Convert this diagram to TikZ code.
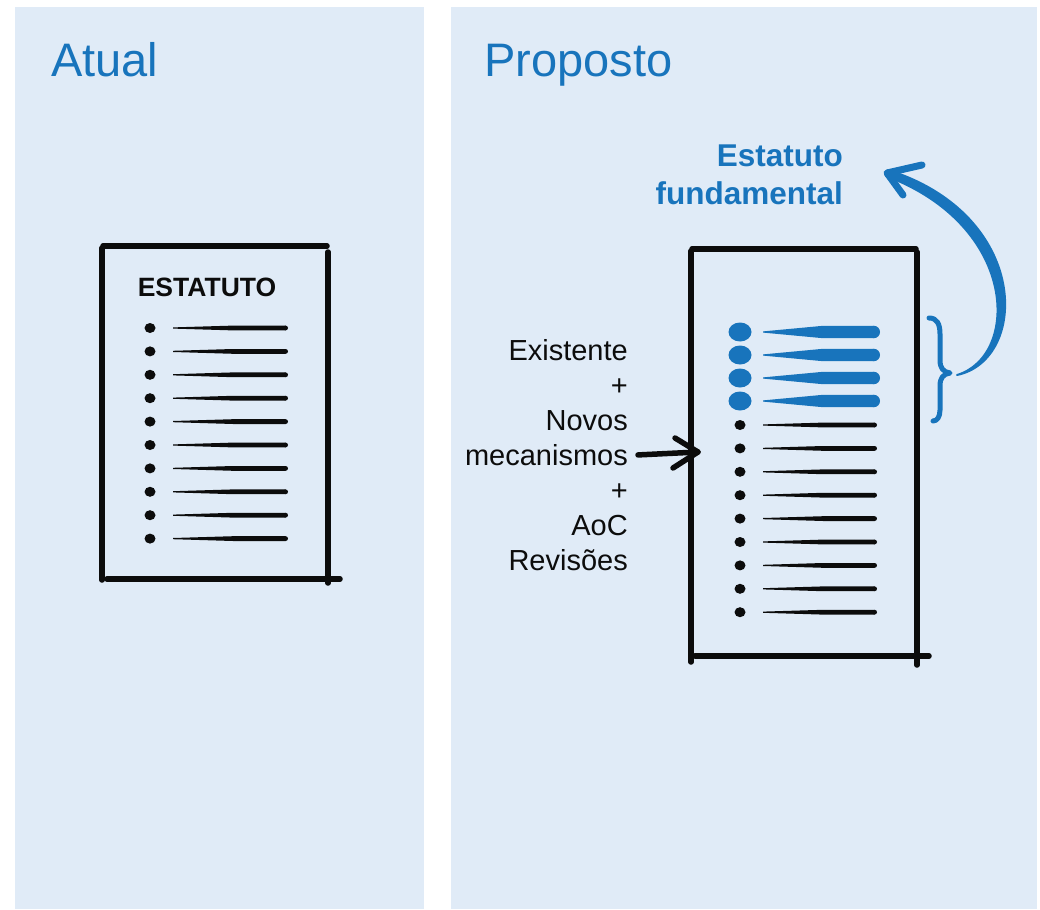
\documentclass[tikz,border=0pt]{standalone}
\usepackage{fontspec}
\setmainfont{Liberation Sans}
\usetikzlibrary{calc}
\definecolor{panelbg}{RGB}{224,235,247}
\definecolor{bblue}{RGB}{24,116,188}
\definecolor{ink}{RGB}{12,12,12}
% tapered stroke: colour, x1, x2, y, half width
\newcommand\tline[5]{%
  \fill[#1] (#2,#4-0.6) .. controls (#2+30,#4-#5*0.7) .. (#2+60,#4-#5) -- (#3-#5,#4-#5) -- (#3-#5,#4+#5) -- (#2+60,#4+#5) .. controls (#2+30,#4+#5*0.7) .. (#2,#4+0.6) -- cycle;
  \fill[#1] (#3-#5,#4) circle[radius=#5pt];}
\begin{document}
\begin{tikzpicture}[x=1pt,y=-1pt,
  panel/.style={fill=panelbg, draw=none},
  title/.style={text=bblue, font=\fontsize{47}{56}\selectfont, anchor=base west, inner sep=0pt},
  side/.style={font=\fontsize{29}{34}\selectfont, anchor=base east, inner sep=0pt, text=ink},
  docedge/.style={line width=5.5pt, line cap=round, ink},
  bluelbl/.style={font=\bfseries\fontsize{31.5}{36}\selectfont, text=bblue, anchor=base east, inner sep=0pt},
  bluestroke/.style={bblue, line cap=round, line join=round}]
\useasboundingbox (0,0) rectangle (1040,909);
\fill[white] (0,0) rectangle (1040,909);
\fill[panel] (15,7) rectangle (424,909);
\fill[panel] (451,7) rectangle (1037,909);
\node[title] (atual) at (51,77) {Atual};
\node[title] (prop) at (484,77) {Proposto};

% left document
\draw[docedge] (103,246) -- (327,246);
\draw[docedge] (102,248) -- (102,580);
\draw[docedge] (328,252) -- (328,583);
\draw[docedge] (107,579) -- (340,579);
\node[font=\bfseries\fontsize{26.5}{30}\selectfont, inner sep=0pt, anchor=base, text=ink] (estleft) at (207,296) {ESTATUTO};
\foreach \i in {0,...,9}{
  \pgfmathsetmacro\yy{328+23.4*\i}
  \fill[ink] (150,\yy) ellipse[x radius=5.5pt, y radius=5pt];
  \tline{ink}{173}{288}{\yy}{2.4}
}

% right document
\draw[docedge] (692,249) -- (916,249);
\draw[docedge] (691,251) -- (691,662);
\draw[docedge] (917,252) -- (917,665);
\draw[docedge] (695,656) -- (929,656);
\foreach \i in {0,...,3}{
  \pgfmathsetmacro\yy{332+23*\i}
  \fill[bblue] (740,\yy) ellipse[x radius=11.5pt, y radius=9.5pt];
  \tline{bblue}{763}{880}{\yy}{6.2}
}
\foreach \i in {0,...,8}{
  \pgfmathsetmacro\yy{425+23.4*\i}
  \fill[ink] (740,\yy) ellipse[x radius=5.5pt, y radius=5pt];
  \tline{ink}{763}{877}{\yy}{2.4}
}

% side text
\node[side] (s1) at (628,360) {Existente};
\node[side] (s2) at (628,395.1) {+};
\node[side] (s3) at (628,430.2) {Novos};
\node[side] (s4) at (628,465.3) {mecanismos};
\node[side] (s5) at (628,500.4) {+};
\node[side] (s6) at (628,535.5) {AoC};
\node[side] (s7) at (628,570.6) {Revisões};

% arrow into document
\coordinate (intip) at (698,452);
\draw[line width=5.5pt, line cap=round, ink] ([xshift=10pt]s4.east) -- (intip);
\draw[line width=5.5pt, line cap=round, line join=round, ink] ($(intip)+(-23,-14)$) -- (intip) -- ($(intip)+(-25,16)$);

% brace
\coordinate (bracetop) at (929,318);
\coordinate (bracetip) at (950,373);
\coordinate (bracebot) at (933,421);
\draw[bluestroke, line width=5pt] (bracetop) .. controls (937,318) and (940,324) .. (940,334) -- (940,360)
  .. controls (940,368) and (943,372) .. (bracetip)
  .. controls (943,374) and (940,378) .. (940,386) -- (940,410)
  .. controls (940,417) and (937,421) .. (bracebot);

% label and curved arrow
\node[bluelbl] (est) at (843,167) {Estatuto};
\node[bluelbl] (fund) at (843,205) {fundamental};
\coordinate (fundtip) at (887,173);
\coordinate (arcstart) at ($(bracetip)+(7,2)$);
\filldraw[bluestroke, line width=2pt] (arcstart) .. controls (1029,360) and (1031,215) .. ($(fundtip)+(1,-3)$)
  -- ($(fundtip)+(-1,3)$) .. controls (1019,226) and (1020,356) .. (arcstart) -- cycle;
\draw[bluestroke, line width=7pt] ($(fundtip)+(35,-8)$) -- (fundtip) -- ($(fundtip)+(16,22)$);
\end{tikzpicture}
\end{document}
